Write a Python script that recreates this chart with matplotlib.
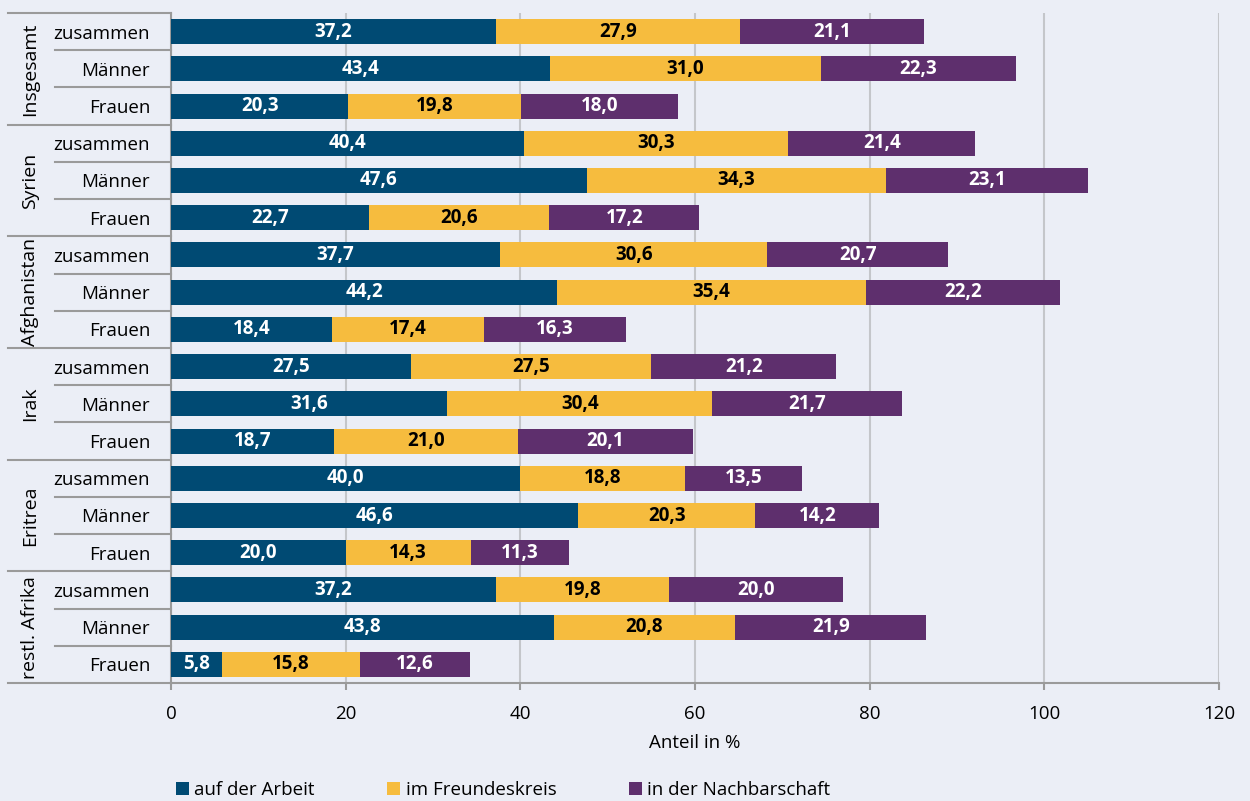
import matplotlib
matplotlib.use("Agg")
import matplotlib.pyplot as plt
import matplotlib.transforms as mtransforms

plt.rcParams['font.family'] = ['Open Sans', 'DejaVu Sans']

# Daten
groups = ["Insgesamt", "Syrien", "Afghanistan", "Irak", "Eritrea", "restl. Afrika"]
rows = ["zusammen", "Männer", "Frauen"]
series = ["auf der Arbeit", "im Freundeskreis", "in der Nachbarschaft"]

arbeit = [37.2, 43.4, 20.3, 40.4, 47.6, 22.7, 37.7, 44.2, 18.4,
          27.5, 31.6, 18.7, 40.0, 46.6, 20.0, 37.2, 43.8, 5.8]
freunde = [27.9, 31.0, 19.8, 30.3, 34.3, 20.6, 30.6, 35.4, 17.4,
           27.5, 30.4, 21.0, 18.8, 20.3, 14.3, 19.8, 20.8, 15.8]
nachbar = [21.1, 22.3, 18.0, 21.4, 23.1, 17.2, 20.7, 22.2, 16.3,
           21.2, 21.7, 20.1, 13.5, 14.2, 11.3, 20.0, 21.9, 12.6]

colors = ["#004a73", "#f6bc3e", "#5e2f6d"]
text_colors = ["white", "black", "white"]
bg = "#ebeef6"
line_col = "#9a9a9a"

fig = plt.figure(figsize=(12.5, 8.01), dpi=100, facecolor=bg)
ax = fig.add_axes([171 / 1250, 1 - 683 / 801, 1048 / 1250, 670 / 801])
ax.set_facecolor(bg)

labels = rows * len(groups)
ypos = list(range(len(labels)))

left = [0.0] * len(labels)
for vals, c, tc, name in zip([arbeit, freunde, nachbar], colors, text_colors, series):
    bars = ax.barh(ypos, vals, left=left, height=0.67, color=c, label=name, zorder=3)
    for b, v in zip(bars, vals):
        ax.text(b.get_x() + b.get_width() / 2, b.get_y() + b.get_height() / 2,
                f"{v:.1f}".replace(".", ","), ha="center", va="center",
                color=tc, fontsize=13.5, fontweight="bold", zorder=4)
    left = [l + v for l, v in zip(left, vals)]

ax.set_xlim(0, 120)
ax.set_ylim(len(labels) - 0.5, -0.5)
ax.set_xticks(range(0, 121, 20))
ax.set_yticks(ypos)
ax.set_yticklabels(labels, fontsize=13.5)
ax.tick_params(axis="y", length=0, pad=15)
ax.tick_params(axis="x", length=5, color=line_col, width=1.5, pad=11, labelsize=13.5)
ax.grid(axis="x", color="#c4c6ca", linewidth=1.5, zorder=0)

for s in ["top", "right"]:
    ax.spines[s].set_visible(False)
for s in ["left", "bottom"]:
    ax.spines[s].set_color(line_col)
    ax.spines[s].set_linewidth(1.5)

ax.set_xlabel("Anteil in %", fontsize=13.5, labelpad=8)

# Trennlinien und Gruppenbeschriftung links
trans = mtransforms.blended_transform_factory(ax.transAxes, ax.transData)
x_grp = (8 - 171) / 1048
x_row = (55 - 171) / 1048
for i in range(len(labels) + 1):
    y = i - 0.5
    x0 = x_grp if i % 3 == 0 else x_row
    ax.plot([x0, 0], [y, y], color=line_col, lw=1.5, transform=trans, clip_on=False)

for g, name in enumerate(groups):
    ax.text((30 - 171) / 1048, g * 3 + 1, name, rotation=90, ha="center", va="center",
            fontsize=14, transform=trans)

leg = fig.legend(loc="center left", bbox_to_anchor=(168 / 1250, 1 - 790 / 801), ncol=3,
                 frameon=False, fontsize=13.5, handlelength=0.7, handleheight=0.7,
                 handletextpad=0.3, columnspacing=3.85, borderaxespad=0)

fig.savefig("out.png", dpi=100, facecolor=bg)
